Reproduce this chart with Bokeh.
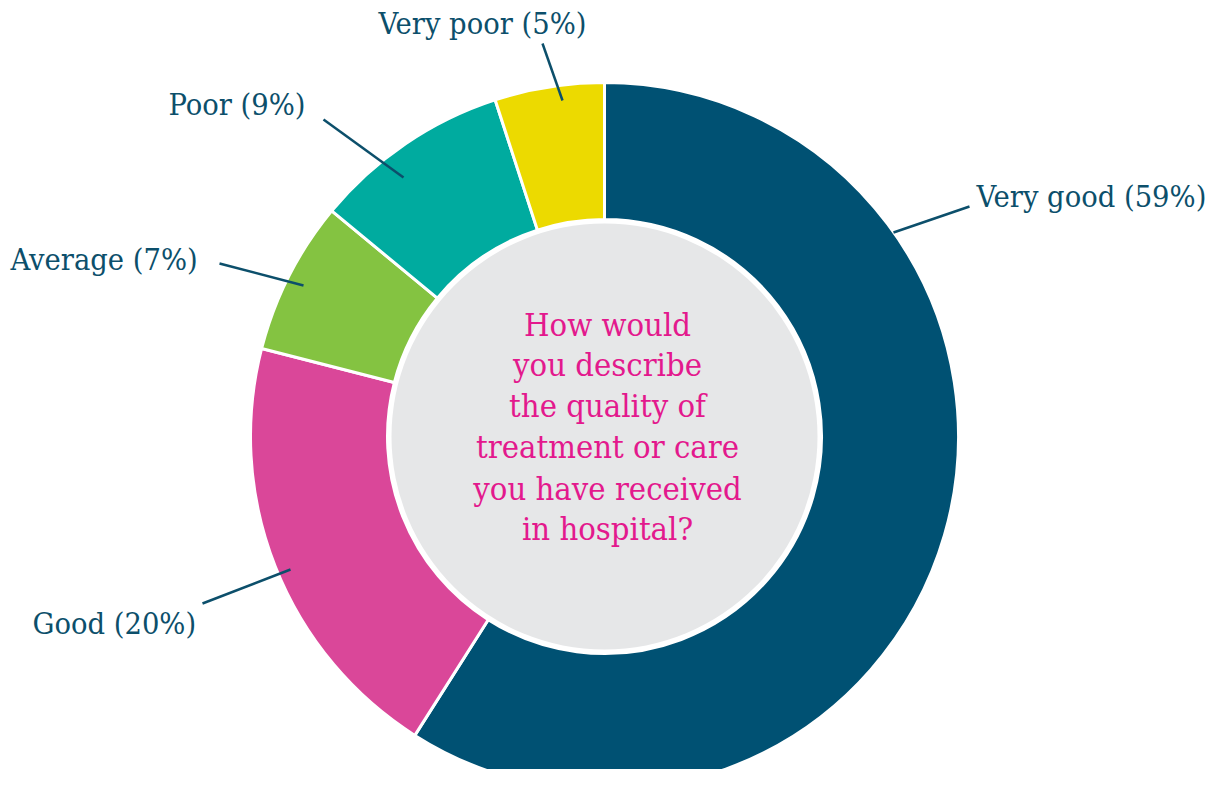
import numpy as np
from bokeh.plotting import figure
from bokeh.models import Range1d, ColumnDataSource
from bokeh.core.properties import value
from bokeh.embed import file_html
from bokeh.resources import INLINE

# ---- data ----
categories = ["Very good", "Good", "Average", "Poor", "Very poor"]
percents = [59, 20, 7, 9, 5]
colors = ["#005173", "#da4799", "#84c341", "#00ab9f", "#ecda00"]
labels = ["Very good (59%)", "Good (20%)", "Average (7%)", "Poor (9%)", "Very poor (5%)"]
question = ["How would", "you describe", "the quality of", "treatment or care",
            "you have received", "in hospital?"]

# ---- layout (pixel coordinates, y downward -> use negative y) ----
W, H = 1207, 769
CX, CY = 604, 436
R_OUT, R_IN, R_HOLE = 354, 217, 213

p = figure(width=W, height=H, output_backend="svg", toolbar_location=None,
           x_range=Range1d(0, W), y_range=Range1d(-H, 0),
           min_border=0, outline_line_color=None)
p.axis.visible = False
p.grid.visible = False
p.background_fill_color = "white"
p.border_fill_color = "white"

vals = np.array(percents, dtype=float)
frac = vals / vals.sum()
cum = np.concatenate([[0], np.cumsum(frac)])
start = np.pi / 2 - 2 * np.pi * cum[:-1]
end = np.pi / 2 - 2 * np.pi * cum[1:]

src = ColumnDataSource(dict(cat=categories, start=start, end=end, color=colors))
p.annular_wedge(x=CX, y=-CY, inner_radius=R_IN, outer_radius=R_OUT,
                start_angle="start", end_angle="end", direction="clock",
                fill_color="color", line_color="white", line_width=3, source=src)
p.circle(x=CX, y=-CY, radius=R_HOLE, fill_color="#e6e7e8", line_color=None)

# leader lines (label end -> slice)
lead_x0 = [969, 202, 219, 323, 542]
lead_y0 = [206, 603, 263, 119, 43]
lead_x1 = [893, 290, 303, 403, 562]
lead_y1 = [232, 569, 285, 177, 100]
p.segment(x0=lead_x0, y0=[-v for v in lead_y0], x1=lead_x1, y1=[-v for v in lead_y1],
          line_color="#0c4f6b", line_width=2.5)

# labels (left x, vertical centre y)
lab_x = [976, 32, 10, 168, 378]
lab_y = [196, 623, 259, 104, 23]
font = value("DejaVu Serif Condensed")
p.text(x=lab_x, y=[-v for v in lab_y], text=labels, text_font=font,
       text_font_size="30.5px", text_color="#0c4f6b", text_align="left",
       text_baseline="middle")

# center question (vertical centre y of each line)
q_y = [324, 364, 405, 446, 488, 528]
p.text(x=[607] * len(question), y=[-v for v in q_y], text=question, text_font=font,
       text_font_size="32.5px", text_color="#e3198d", text_align="center",
       text_baseline="middle")

open("out.html", "w").write(file_html(p, INLINE))
